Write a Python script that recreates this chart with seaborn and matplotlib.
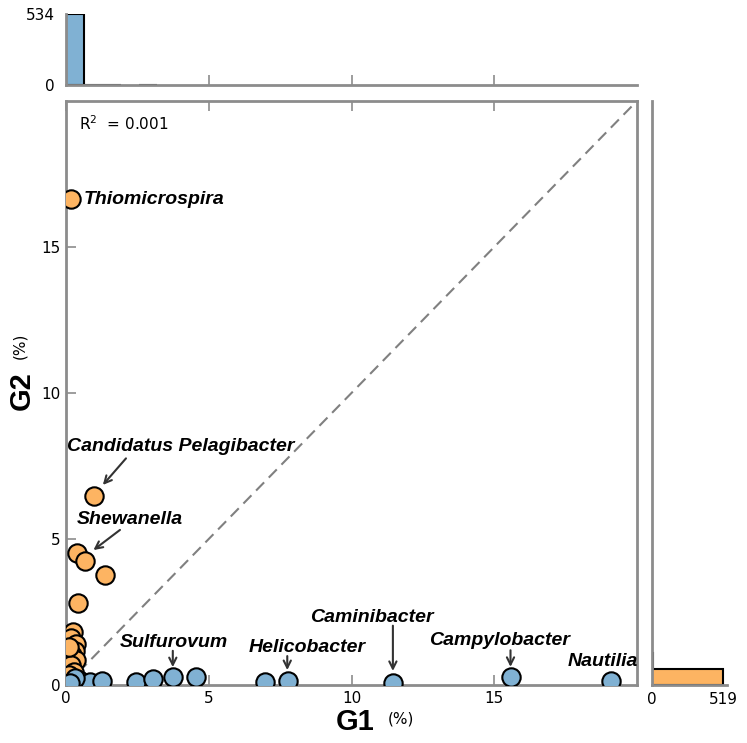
import numpy as np
import pandas as pd
import matplotlib
matplotlib.use("Agg")
import matplotlib.pyplot as plt
import seaborn as sns

# ---------------- data ----------------
# G2-dominant genera (orange)
orange_g1 = [0.18, 0.98, 0.39, 0.67, 1.37, 0.42, 0.23, 0.18, 0.35, 0.33, 0.21, 0.35, 0.18, 0.29, 0.23, 0.10, 0.05, 0.12]
orange_g2 = [16.64, 6.47, 4.52, 4.25, 3.77, 2.81, 1.80, 1.62, 1.42, 1.18, 1.02, 0.86, 0.68, 0.46, 0.20, 0.35, 0.05, 1.30]
# G1-dominant genera (blue)
blue_g1 = [0.47, 0.85, 1.25, 2.45, 3.06, 3.74, 4.55, 6.97, 7.79, 11.45, 15.59, 19.10, 0.30, 0.15]
blue_g2 = [0.17, 0.11, 0.15, 0.11, 0.19, 0.28, 0.26, 0.11, 0.15, 0.07, 0.28, 0.12, 0.25, 0.08]

# marginal histograms (30 bins each, counts)
g1_hist_range = (0.0, 19.10)
g1_hist_counts = [534, 2, 1, 0, 1, 0, 0, 0, 0, 0, 0, 0, 0, 0, 0,
                  0, 0, 0, 0, 0, 0, 0, 0, 0, 0, 0, 0, 0, 0, 0]
g2_hist_range = (0.0, 16.64)
g2_hist_counts = [519, 5, 1, 0, 0, 0, 0, 0, 0, 0, 0, 0, 0, 0, 0,
                  0, 0, 0, 0, 0, 0, 0, 0, 0, 0, 0, 0, 0, 0, 0]

r2_value = 0.001
axis_ticks = [0, 5, 10, 15]
top_hist_ticks = [0, 534]
right_hist_ticks = [0, 519]

label_names = ["Thiomicrospira", "Candidatus Pelagibacter", "Shewanella",
               "Sulfurovum", "Helicobacter", "Caminibacter", "Campylobacter", "Nautilia"]

BLUE = "#80B1D3"
ORANGE = "#FDB462"
SPINE = "#8c8c8c"

sns.set_style("white")
plt.rcParams["font.family"] = ["DejaVu Sans"]
plt.rcParams["text.color"] = "black"

fig = plt.figure(figsize=(7.47, 7.43), dpi=100)
ax = fig.add_axes([0.0884, 0.0781, 0.7643, 0.7860])
ax_top = fig.add_axes([0.0884, 0.8856, 0.7643, 0.0956])
ax_right = fig.add_axes([0.8728, 0.0781, 0.1004, 0.7860])

# ---------------- scatter ----------------
ax.axline((0, 0), slope=1, color="#808080", lw=1.5, dashes=(5.5, 3.2), zorder=1)
sns.scatterplot(x=orange_g1, y=orange_g2, ax=ax, color=ORANGE, edgecolor="black",
                linewidth=1.5, s=175, zorder=3)
sns.scatterplot(x=blue_g1, y=blue_g2, ax=ax, color=BLUE, edgecolor="black",
                linewidth=1.5, s=175, zorder=4)
ax.set_xlim(0, 20)
ax.set_ylim(0, 20)
ax.set_xticks(axis_ticks)
ax.set_yticks(axis_ticks)
ax.set_xticklabels([str(t) for t in axis_ticks])
ax.set_yticklabels([str(t) for t in axis_ticks])
ax.tick_params(direction="in", length=7, width=1.2, color=SPINE, labelsize=11,
               labelcolor="black", top=True, bottom=True, left=True, right=False, pad=4)
for sp in ax.spines.values():
    sp.set_visible(True)
    sp.set_color(SPINE)
    sp.set_linewidth(2)
ax.set_xlabel("")
ax.set_ylabel("")

ax.text(0.023, 0.962, r"R$^{2}$  = %.3f" % r2_value, transform=ax.transAxes,
        fontsize=11, ha="left", va="center", color="black")

lab_font = dict(family="Liberation Sans", weight="bold", style="italic", fontsize=14,
                color="black")
arrow_kw = dict(arrowstyle="->", color="#333333", lw=1.5, shrinkA=0, shrinkB=0,
                mutation_scale=13)

ax.text(0.63, 16.64, label_names[0], ha="left", va="center", **lab_font)
ax.text(0.02, 8.15, label_names[1], ha="left", va="center", **lab_font)
ax.text(0.37, 5.65, label_names[2], ha="left", va="center", **lab_font)
ax.text(1.89, 1.45, label_names[3], ha="left", va="center", **lab_font)
ax.text(6.39, 1.29, label_names[4], ha="left", va="center", **lab_font)
ax.text(8.55, 2.32, label_names[5], ha="left", va="center", **lab_font)
ax.text(12.71, 1.51, label_names[6], ha="left", va="center", **lab_font)
ax.text(17.57, 0.82, label_names[7], ha="left", va="center", **lab_font)

ax.annotate("", xy=(1.29, 6.85), xytext=(2.10, 7.76), arrowprops=arrow_kw)
ax.annotate("", xy=(0.96, 4.62), xytext=(1.89, 5.31), arrowprops=arrow_kw)
ax.annotate("", xy=(3.74, 0.61), xytext=(3.74, 1.17), arrowprops=arrow_kw)
ax.annotate("", xy=(7.75, 0.51), xytext=(7.75, 0.99), arrowprops=arrow_kw)
ax.annotate("", xy=(11.45, 0.48), xytext=(11.45, 2.03), arrowprops=arrow_kw)
ax.annotate("", xy=(15.57, 0.62), xytext=(15.57, 1.19), arrowprops=arrow_kw)

fig.text(355 / 747, 1 - 722 / 743, "G1", fontsize=21, fontweight="bold",
         family="Liberation Sans", ha="center", va="center", color="black")
fig.text(401 / 747, 1 - 719 / 743, "(%)", fontsize=11, ha="center", va="center",
         color="black")
fig.text(22 / 747, 1 - 391 / 743, "G2", fontsize=21, fontweight="bold",
         family="Liberation Sans", ha="center", va="center", rotation=90, color="black")
fig.text(20 / 747, 1 - 346 / 743, "(%)", fontsize=11, ha="center", va="center",
         rotation=90, color="black")

# ---------------- top marginal ----------------
n1 = len(g1_hist_counts)
w1 = (g1_hist_range[1] - g1_hist_range[0]) / n1
g1_centers = [g1_hist_range[0] + (i + 0.5) * w1 for i in range(n1)]
top_df = pd.DataFrame({"g1": g1_centers, "count": g1_hist_counts})
sns.histplot(data=top_df, x="g1", weights="count", bins=n1, binrange=g1_hist_range,
             ax=ax_top, color=BLUE, edgecolor="black", linewidth=1.5, alpha=1)
for p in ax_top.patches:
    if p.get_height() == 0:
        p.set_visible(False)
ax_top.set_xlim(0, 20)
ax_top.set_ylim(0, 534)
ax_top.set_xticks([5, 10, 15])
ax_top.set_xticklabels([])
ax_top.set_yticks(top_hist_ticks)
ax_top.set_yticklabels([str(t) for t in top_hist_ticks])
ax_top.tick_params(axis="x", direction="in", length=7, width=1.2, color=SPINE,
                   bottom=True)
ax_top.tick_params(axis="y", direction="in", length=0, labelsize=11, pad=8,
                   labelcolor="black")
ax_top.set_xlabel("")
ax_top.set_ylabel("")
for k in ["top", "right"]:
    ax_top.spines[k].set_visible(False)
for k in ["left", "bottom"]:
    ax_top.spines[k].set_color(SPINE)
    ax_top.spines[k].set_linewidth(2)

# ---------------- right marginal ----------------
n2 = len(g2_hist_counts)
w2 = (g2_hist_range[1] - g2_hist_range[0]) / n2
g2_centers = [g2_hist_range[0] + (i + 0.5) * w2 for i in range(n2)]
right_df = pd.DataFrame({"g2": g2_centers, "count": g2_hist_counts})
sns.histplot(data=right_df, y="g2", weights="count", bins=n2, binrange=g2_hist_range,
             ax=ax_right, color=ORANGE, edgecolor="black", linewidth=1.5, alpha=1)
for p in ax_right.patches:
    if p.get_width() == 0:
        p.set_visible(False)
ax_right.set_ylim(0, 20)
ax_right.set_xlim(0, 548)
ax_right.set_yticks([])
ax_right.set_xticks(right_hist_ticks)
ax_right.set_xticklabels([str(t) for t in right_hist_ticks])
ax_right.tick_params(axis="x", direction="in", length=0, labelsize=11, pad=5,
                     labelcolor="black")
ax_right.set_xlabel("")
ax_right.set_ylabel("")
for k in ["top", "right"]:
    ax_right.spines[k].set_visible(False)
for k in ["left", "bottom"]:
    ax_right.spines[k].set_color(SPINE)
    ax_right.spines[k].set_linewidth(2)

fig.savefig("out.png", dpi=100)
